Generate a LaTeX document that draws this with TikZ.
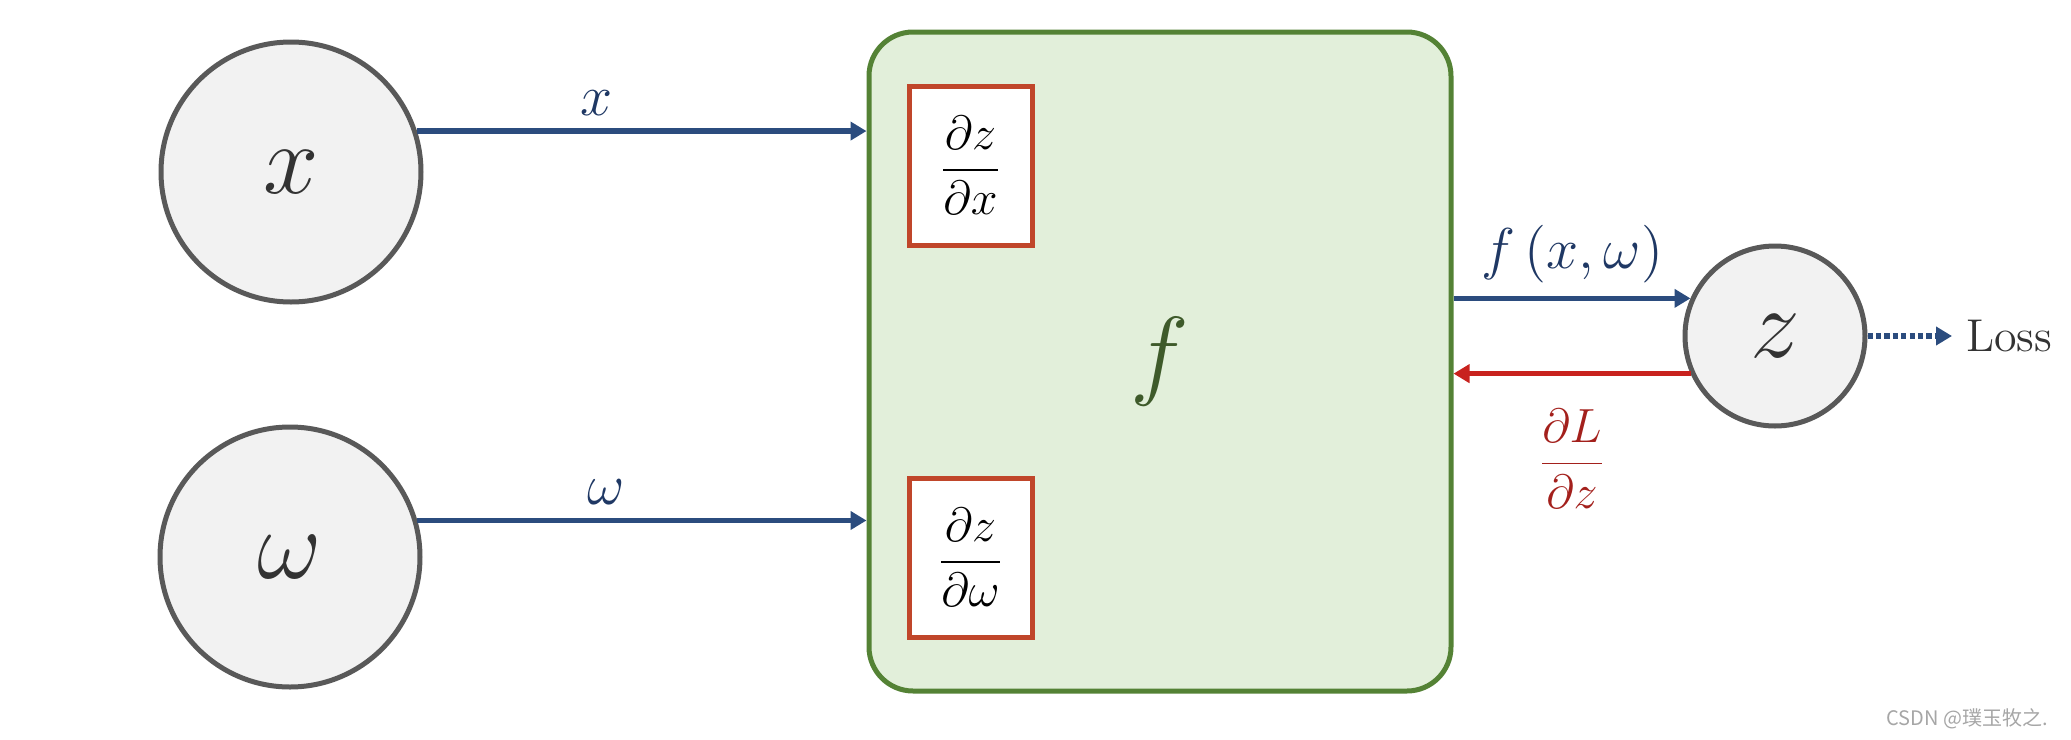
\documentclass[tikz,border=0pt]{standalone}
\usepackage{fontspec}
\newfontfamily\cjk{Noto Sans CJK SC}
\usetikzlibrary{arrows.meta}
\definecolor{nodegray}{HTML}{F2F2F2}
\definecolor{nodeborder}{HTML}{595959}
\definecolor{nodetext}{HTML}{333333}
\definecolor{boxgreen}{HTML}{E2EFDA}
\definecolor{boxborder}{HTML}{548235}
\definecolor{gradred}{HTML}{C0462A}
\definecolor{flowblue}{HTML}{2B4C7E}
\definecolor{labelblue}{HTML}{1F3864}
\definecolor{backred}{HTML}{C8221E}
\definecolor{labelred}{HTML}{A3201C}
\definecolor{fgreen}{HTML}{3E5A2A}
\tikzset{
  var/.style={circle, draw=nodeborder, fill=nodegray, line width=1.25pt, text=nodetext, font=\fontsize{24}{28}\selectfont},
  partial/.style={draw=gradred, fill=white, line width=1.25pt, minimum width=30.75pt, minimum height=39.75pt, inner sep=0pt, font=\fontsize{13}{15}\selectfont},
  fwd/.style={draw=flowblue, line width=1.3pt, -{Triangle[length=4pt,width=4.5pt]}},
  bwd/.style={draw=backred, line width=1.3pt, -{Triangle[length=4pt,width=4.5pt]}},
  lbl/.style={text=labelblue, font=\fontsize{14}{16}\selectfont}
}
\begin{document}
\begin{tikzpicture}[x=0.25pt,y=-0.25pt]
	\useasboundingbox (0,0) rectangle (2071,740);
	\node[var, minimum size=65pt] (x) at (291,172) {$x$};
	\node[var, minimum size=65pt] (w) at (290,557) {$\omega$};
	\node[draw=boxborder, fill=boxgreen, line width=1.25pt, rounded corners=11pt, minimum width=145.5pt, minimum height=164.75pt, text=fgreen, font=\fontsize{24}{28}\selectfont] (fbox) at (1160,361.5) {$f$};
	\node[partial] (dzdx) at (970.5,165.5) {$\displaystyle\frac{\partial z}{\partial x}$};
	\node[partial] (dzdw) at (970.5,557.5) {$\displaystyle\frac{\partial z}{\partial \omega}$};
	\node[var, minimum size=45pt] (z) at (1775,336) {$z$};
	\node[anchor=west, text=nodetext, font=\fontsize{11.5}{13}\selectfont] (loss) at (1952,336) {Loss};
	\draw[fwd] (x.18) -- node[pos=0.4, above, lbl] {$x$} (x.18 -| fbox.west);
	\draw[fwd] (w.16) -- node[pos=0.42, above, lbl] {$\omega$} (w.16 -| fbox.west);
	\draw[fwd] (z.156 -| fbox.east) -- node[above, lbl] {$f\,(x,\omega)$} (z.156);
	\draw[bwd] (z.204) -- node[below=5pt, text=labelred, font=\fontsize{13}{15}\selectfont] {$\displaystyle\frac{\partial L}{\partial z}$} (z.204 -| fbox.east);
	\draw[flowblue, line width=1.3pt, dash pattern=on 1.3pt off 0.8pt, -{Triangle[length=4pt,width=4.5pt]}] (z.east) -- (loss.west);
	\node[anchor=east, text=gray!70, font=\cjk\fontsize{5}{6}\selectfont] (mark) at (2062,719) {CSDN @璞玉牧之.};
\end{tikzpicture}
\end{document}
